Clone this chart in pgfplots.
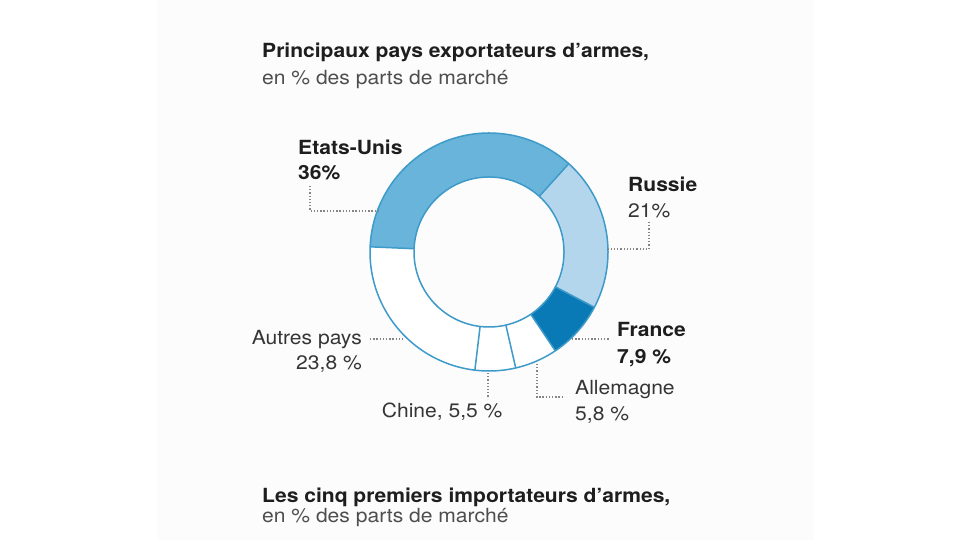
\documentclass[border=0pt]{standalone}
\usepackage{pgfplots}
\usepackage{pgfplotstable}
\pgfplotsset{compat=1.18}
\usepackage{fontspec}
\setmainfont{TeX Gyre Heros}[FakeStretch=1.08]

\definecolor{cUS}{HTML}{68B4DA}
\definecolor{cRU}{HTML}{B4D6EC}
\definecolor{cFR}{HTML}{097AB5}
\definecolor{cWh}{HTML}{FFFFFF}
\definecolor{cBd}{HTML}{3D9AC9}
\definecolor{txt}{HTML}{1E1E1E}
\definecolor{reg}{HTML}{353535}
\definecolor{sub}{HTML}{4E4E4E}
\definecolor{dotc}{HTML}{858585}
\definecolor{panel}{HTML}{FCFCFC}

% Market shares of arms exporters (%), clockwise from the left
\pgfplotstableread{
pays val col
EtatsUnis 36 cUS
Russie 21 cRU
France 7.9 cFR
Allemagne 5.8 cWh
Chine 5.5 cWh
Autres 23.8 cWh
}\exports

\newcommand\fs{\fontsize{19.5}{23}\selectfont}

\begin{document}
\begin{tikzpicture}
\fill[white] (0,0) rectangle (975pt,540pt);
\fill[panel] (157pt,0) rectangle (814pt,540pt);
\begin{axis}[
  x=1pt, y=1pt,
  xmin=0, xmax=975, ymin=0, ymax=540,
  at={(0,0)}, anchor=south west,
  hide axis, clip=false,
  font=\fs,
]
% ring slices
\pgfmathsetmacro\cur{177.5}
\pgfplotsforeachungrouped \i in {0,...,5}{%
  \pgfplotstablegetelem{\i}{val}\of\exports \let\sval\pgfplotsretval
  \pgfplotstablegetelem{\i}{col}\of\exports \let\scol\pgfplotsretval
  \pgfmathsetmacro\nxt{\cur-3.6*\sval}%
  \edef\temp{\noexpand\addplot[draw=\scol, line width=44pt, domain=\nxt:\cur, samples=90] ({489+97*cos(x)},{288+97*sin(x)});}%
  \temp
  \let\cur\nxt
}
% outer and inner borders
\addplot[draw=cBd, line width=1.5pt, domain=0:360, samples=241] ({489+119*cos(x)},{288+119*sin(x)});
\addplot[draw=cBd, line width=1.5pt, domain=0:360, samples=241] ({489+75*cos(x)},{288+75*sin(x)});
% radial separators
\pgfmathsetmacro\cur{177.5}
\pgfplotsforeachungrouped \i in {0,...,5}{%
  \pgfplotstablegetelem{\i}{val}\of\exports \let\sval\pgfplotsretval
  \edef\temp{\noexpand\addplot[draw=cBd, line width=1.5pt, domain=75:119, samples=2] ({489+x*cos(\cur)},{288+x*sin(\cur)});}%
  \temp
  \pgfmathsetmacro\nxt{\cur-3.6*\sval}%
  \let\cur\nxt
}
% leader lines
\addplot[dotc, line width=1.3pt, dash pattern=on 1.3pt off 1.9pt] coordinates {(310,354) (310,329) (378,329)};
\addplot[dotc, line width=1.3pt, dash pattern=on 1.3pt off 1.9pt] coordinates {(649,318) (649,291) (608,291)};
\addplot[dotc, line width=1.3pt, dash pattern=on 1.3pt off 1.9pt] coordinates {(572,201) (610,201)};
\addplot[dotc, line width=1.3pt, dash pattern=on 1.3pt off 1.9pt] coordinates {(537,176) (537,143) (563,143)};
\addplot[dotc, line width=1.3pt, dash pattern=on 1.3pt off 1.9pt] coordinates {(488,167) (488,142)};
\addplot[dotc, line width=1.3pt, dash pattern=on 1.3pt off 1.9pt] coordinates {(370,201) (405,201)};
% titles
\node[anchor=base west, inner sep=0, text=txt, font=\fs\bfseries] at (axis cs:262,482.5) {Principaux pays exportateurs d’armes,};
\node[anchor=base west, inner sep=0, text=sub] at (axis cs:262,455) {en \% des parts de marché};
\node[anchor=base west, inner sep=0, text=txt, font=\fs\bfseries] at (axis cs:262,37.3) {Les cinq premiers importateurs d’armes,};
\node[anchor=base west, inner sep=0, text=sub] at (axis cs:262,17) {en \% des parts de marché};
% labels
\node[anchor=base west, inner sep=0, text=txt, font=\fs\bfseries] at (axis cs:298,385.7) {Etats-Unis};
\node[anchor=base west, inner sep=0, text=txt, font=\fs\bfseries] at (axis cs:298,360.7) {36\%};
\node[anchor=base west, inner sep=0, text=txt, font=\fs\bfseries] at (axis cs:628,348.3) {Russie};
\node[anchor=base west, inner sep=0, text=reg] at (axis cs:628,322) {21\%};
\node[anchor=base west, inner sep=0, text=txt, font=\fs\bfseries] at (axis cs:617,203.3) {France};
\node[anchor=base west, inner sep=0, text=txt, font=\fs\bfseries] at (axis cs:617,176.7) {7,9 \%};
\node[anchor=base west, inner sep=0, text=reg] at (axis cs:575,145) {Allemagne};
\node[anchor=base west, inner sep=0, text=reg] at (axis cs:575,119.3) {5,8 \%};
\node[anchor=base east, inner sep=0, text=reg] at (axis cs:362,195.7) {Autres pays};
\node[anchor=base east, inner sep=0, text=reg] at (axis cs:362,170) {23,8 \%};
\node[anchor=base west, inner sep=0, text=reg] at (axis cs:381.7,122) {Chine, 5,5 \%};
\end{axis}
\end{tikzpicture}
\end{document}
